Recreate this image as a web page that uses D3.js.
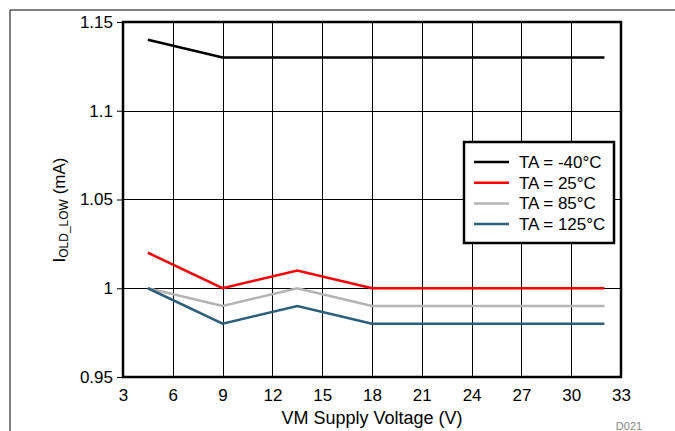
<!DOCTYPE html>
<html>
<head>
<meta charset="utf-8">
<script src="https://cdn.jsdelivr.net/npm/d3@7"></script>
<style>
  body { margin: 0; background: #fff; }
  text { font-family: "Liberation Sans", Arial, sans-serif; }
</style>
</head>
<body>
<div id="chart"></div>
<script>
// data
var voltages = [4.5, 9, 13.5, 18, 32];
var seriesNames = ['TA = -40°C', 'TA = 25°C', 'TA = 85°C', 'TA = 125°C'];
var seriesColors = ['#000000', '#ff0000', '#b4b4b4', '#2b5f7c'];
var tMinus40 = [1.14, 1.13, 1.13, 1.13, 1.13];
var t25 = [1.02, 1.00, 1.01, 1.00, 1.00];
var t85 = [1.00, 0.99, 1.00, 0.99, 0.99];
var t125 = [1.00, 0.98, 0.99, 0.98, 0.98];
var xTicks = [3, 6, 9, 12, 15, 18, 21, 24, 27, 30, 33];
var yTicks = [0.95, 1, 1.05, 1.1, 1.15];

var width = 675, height = 431;
var plot = { left: 123, top: 22, right: 621, bottom: 377 };

var svg = d3.select('#chart').append('svg')
    .attr('width', width)
    .attr('height', height);

// outer page frame
svg.append('line').attr('x1', 10).attr('y1', 10).attr('x2', width).attr('y2', 10)
    .attr('stroke', '#000').attr('stroke-width', 1);
svg.append('line').attr('x1', 10).attr('y1', 10).attr('x2', 10).attr('y2', height)
    .attr('stroke', '#000').attr('stroke-width', 1);

var x = d3.scaleLinear().domain([3, 33]).range([plot.left, plot.right]);
var y = d3.scaleLinear().domain([0.95, 1.15]).range([plot.bottom, plot.top]);

// grid
var grid = svg.append('g').attr('class', 'grid');
grid.selectAll('line.v').data(xTicks).enter().append('line')
    .attr('class', 'v')
    .attr('x1', function(d) { return Math.round(x(d)) + 0.5; })
    .attr('x2', function(d) { return Math.round(x(d)) + 0.5; })
    .attr('y1', plot.top).attr('y2', plot.bottom)
    .attr('stroke', '#000').attr('stroke-width', 1);
grid.selectAll('line.h').data(yTicks).enter().append('line')
    .attr('class', 'h')
    .attr('y1', function(d) { return Math.round(y(d)) + 0.5; })
    .attr('y2', function(d) { return Math.round(y(d)) + 0.5; })
    .attr('x1', plot.left).attr('x2', plot.right)
    .attr('stroke', '#000').attr('stroke-width', 1);

// axes (labels only, lines come from grid/frame)
var xAxis = svg.append('g')
    .attr('transform', 'translate(0,' + plot.bottom + ')')
    .call(d3.axisBottom(x).tickValues(xTicks).tickSize(0).tickPadding(12).tickFormat(d3.format('d')));
var yAxis = svg.append('g')
    .attr('transform', 'translate(' + plot.left + ',0)')
    .call(d3.axisLeft(y).tickValues(yTicks).tickSize(6).tickPadding(4).tickFormat(function(d) { return String(+d.toFixed(2)); }));
[xAxis, yAxis].forEach(function(a) {
    a.select('.domain').remove();
    a.selectAll('text').attr('font-size', 17).attr('fill', '#000')
        .attr('font-family', '"Liberation Sans", Arial, sans-serif');
    a.selectAll('.tick line').attr('stroke', '#000');
});

// series
var allSeries = [tMinus40, t25, t85, t125];
var line = d3.line()
    .x(function(d, i) { return x(voltages[i]); })
    .y(function(d) { return y(d); });
svg.append('g').selectAll('path').data(allSeries).enter().append('path')
    .attr('d', line)
    .attr('fill', 'none')
    .attr('stroke', function(d, i) { return seriesColors[i]; })
    .attr('stroke-width', 2.5);

// plot border
svg.append('rect')
    .attr('x', plot.left).attr('y', plot.top)
    .attr('width', plot.right - plot.left).attr('height', plot.bottom - plot.top)
    .attr('fill', 'none').attr('stroke', '#000').attr('stroke-width', 2.5);

// legend
var legend = svg.append('g').attr('transform', 'translate(464,142)');
legend.append('rect')
    .attr('width', 150).attr('height', 101)
    .attr('fill', '#fff').attr('stroke', '#000').attr('stroke-width', 2.5);
var items = legend.selectAll('g.item').data(seriesNames).enter().append('g')
    .attr('class', 'item')
    .attr('transform', function(d, i) { return 'translate(0,' + (20 + i * 20.7) + ')'; });
items.append('line')
    .attr('x1', 10).attr('x2', 45)
    .attr('stroke', function(d, i) { return seriesColors[i]; })
    .attr('stroke-width', 2.5);
items.append('text')
    .attr('x', 55).attr('y', 0).attr('dy', '0.35em')
    .attr('font-size', 17)
    .text(function(d) { return d; });

// axis titles
svg.append('text')
    .attr('x', 372).attr('y', 424)
    .attr('text-anchor', 'middle').attr('font-size', 18)
    .text('VM Supply Voltage (V)');

var yTitle = svg.append('text')
    .attr('transform', 'translate(65,' + 210 + ') rotate(-90)')
    .attr('text-anchor', 'middle').attr('font-size', 17);
yTitle.append('tspan').text('I');
yTitle.append('tspan').attr('font-size', 12).attr('dy', 3).text('OLD_LOW');
yTitle.append('tspan').attr('dy', -3).text(' (mA)');

svg.append('text')
    .attr('x', 629).attr('y', 430)
    .attr('text-anchor', 'middle').attr('font-size', 11).attr('fill', '#888')
    .text('D021');
</script>
</body>
</html>
